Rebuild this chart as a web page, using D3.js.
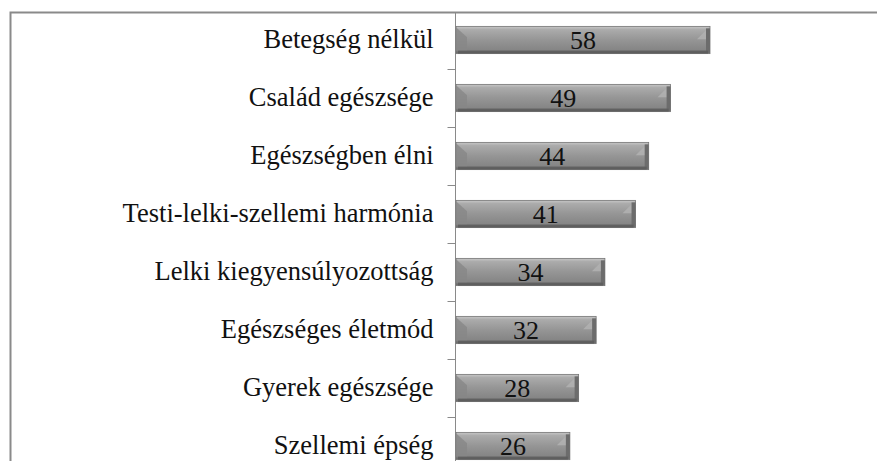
<!DOCTYPE html>
<html>
<head>
<meta charset="utf-8">
<script src="https://cdn.jsdelivr.net/npm/d3@7"></script>
<style>
  body { margin: 0; background: #fff; }
  svg { display: block; }
  .cat text { font-family: "Liberation Serif", "Times New Roman", serif; font-size: 26.5px; fill: #111; }
  .val { font-family: "Liberation Serif", "Times New Roman", serif; font-size: 26px; fill: #111; }
</style>
</head>
<body>
<div id="chart"></div>
<script>
// chart data
const categories = [
    'Betegség nélkül',
    'Család egészsége',
    'Egészségben élni',
    'Testi-lelki-szellemi harmónia',
    'Lelki kiegyensúlyozottság',
    'Egészséges életmód',
    'Gyerek egészsége',
    'Szellemi épség'
];
const values = [58, 49, 44, 41, 34, 32, 28, 26];

const width = 877, height = 461;
const axisX = 455.5;

const svg = d3.select('#chart')
    .append('svg')
    .attr('width', width)
    .attr('height', height);

// gradient for the bevelled bars
const defs = svg.append('defs');
const grad = defs.append('linearGradient')
    .attr('id', 'barGrad')
    .attr('x1', 0).attr('y1', 0).attr('x2', 0).attr('y2', 1);
grad.append('stop').attr('offset', '0%').attr('stop-color', '#c8c8c8');
grad.append('stop').attr('offset', '12%').attr('stop-color', '#ababab');
grad.append('stop').attr('offset', '50%').attr('stop-color', '#959595');
grad.append('stop').attr('offset', '85%').attr('stop-color', '#868686');
grad.append('stop').attr('offset', '100%').attr('stop-color', '#646464');

const x = d3.scaleLinear()
    .domain([0, 58])
    .range([axisX + 0.5, 710]);

const y = d3.scaleBand()
    .domain(categories)
    .range([11, 475])
    .paddingInner(0.53)
    .paddingOuter(0.265);

// outer frame (cropped at right and bottom)
svg.append('path')
    .attr('d', `M10.5,${height} V12.5 H${width}`)
    .attr('fill', 'none')
    .attr('stroke', '#8a8a8a')
    .attr('stroke-width', 2);

// category labels
const yAxis = d3.axisLeft(y).tickSize(0).tickPadding(22);
svg.append('g')
    .attr('class', 'cat')
    .attr('transform', `translate(${axisX},0)`)
    .call(yAxis)
    .call(g => g.select('.domain').remove())
    .selectAll('text')
    .attr('dy', '0.3em');

// axis line and ticks between categories
svg.append('line')
    .attr('x1', axisX).attr('x2', axisX)
    .attr('y1', 12).attr('y2', height)
    .attr('stroke', '#8a8a8a');

svg.append('g')
    .selectAll('line')
    .data(categories.slice(0, -1))
    .enter()
    .append('line')
    .attr('x1', axisX - 8).attr('x2', axisX)
    .attr('y1', d => Math.round(y(d) + y.step() - y.step() * y.paddingInner() / 2) + 0.5)
    .attr('y2', d => Math.round(y(d) + y.step() - y.step() * y.paddingInner() / 2) + 0.5)
    .attr('stroke', '#8a8a8a');

// bars
const bars = svg.append('g')
    .selectAll('g')
    .data(values)
    .enter()
    .append('g');

const bh = y.bandwidth();
const bev = 7;

bars.append('rect')
    .attr('x', x(0))
    .attr('y', (d, i) => y(categories[i]))
    .attr('width', d => x(d) - x(0))
    .attr('height', bh)
    .attr('fill', 'url(#barGrad)')
    .attr('stroke', '#747474')
    .attr('stroke-width', 0.8);

// left bevel (darker lower-left triangle)
bars.append('path')
    .attr('d', (d, i) => {
        const y0 = y(categories[i]), x0 = x(0);
        return `M${x0},${y0 + 1} L${x0 + bev + 4},${y0 + bev + 4} L${x0 + bev + 4},${y0 + bh - 3} L${x0},${y0 + bh - 3} Z`;
    })
    .attr('fill', '#878787')
    .attr('opacity', 0.8);

// right bevel: lighter diagonal face and a dark edge strip
bars.append('path')
    .attr('d', (d, i) => {
        const y0 = y(categories[i]), x1 = x(d);
        return `M${x1 - 1},${y0 + 1} L${x1 - bev - 6},${y0 + bev + 6} L${x1 - 1},${y0 + bev + 6} Z`;
    })
    .attr('fill', '#b0b0b0')
    .attr('opacity', 0.9);

bars.append('rect')
    .attr('x', d => x(d) - 4)
    .attr('y', (d, i) => y(categories[i]) + 2)
    .attr('width', 4)
    .attr('height', bh - 3)
    .attr('fill', '#6c6c6c');

// bottom edge shade
bars.append('rect')
    .attr('x', x(0) + 2)
    .attr('y', (d, i) => y(categories[i]) + bh - 3)
    .attr('width', d => x(d) - x(0) - 4)
    .attr('height', 3)
    .attr('fill', '#5a5a5a')
    .attr('opacity', 0.75);

// value labels
bars.append('text')
    .attr('class', 'val')
    .attr('x', d => (x(0) + x(d)) / 2)
    .attr('y', (d, i) => y(categories[i]) + bh / 2)
    .attr('dy', '0.35em')
    .attr('text-anchor', 'middle')
    .text(d => d);
</script>
</body>
</html>
